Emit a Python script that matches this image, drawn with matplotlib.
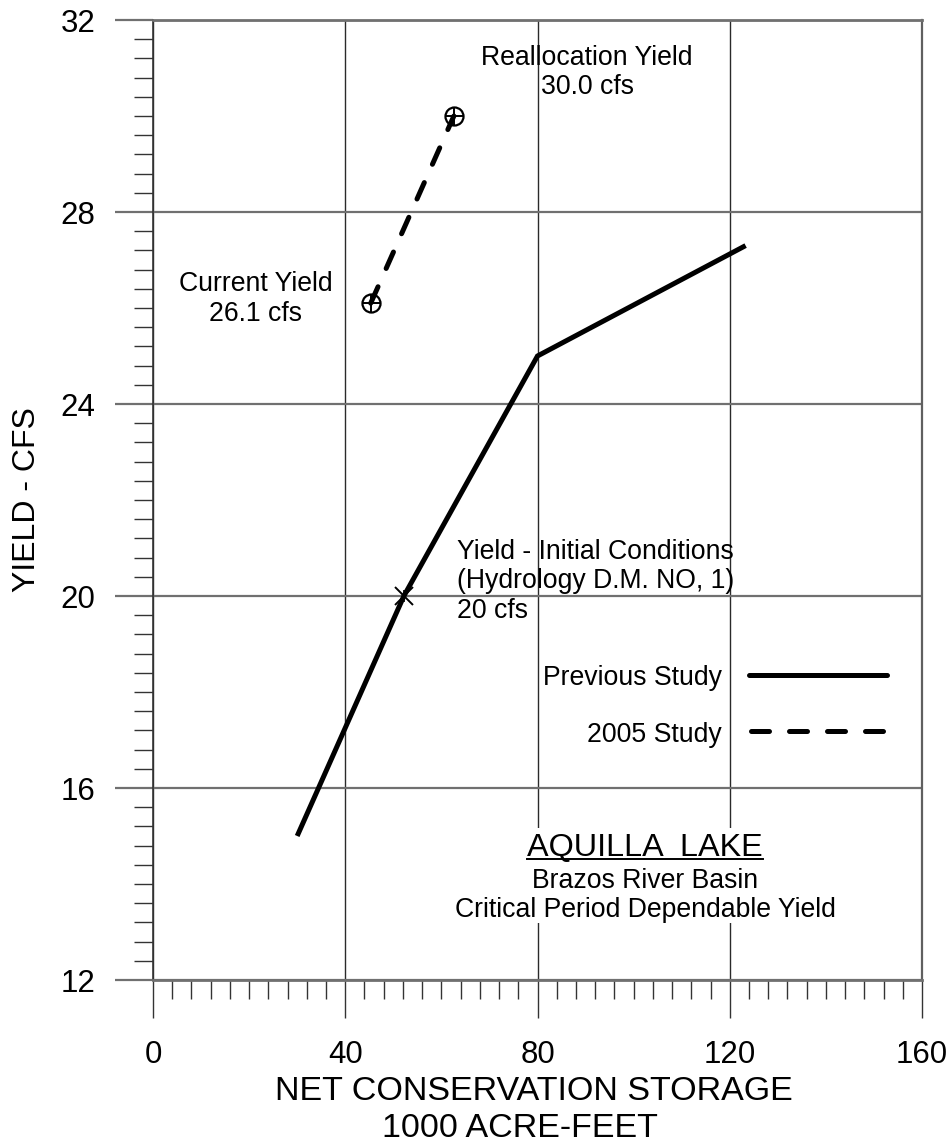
import matplotlib
matplotlib.use("Agg")
import matplotlib.pyplot as plt
from matplotlib.ticker import MultipleLocator, FixedLocator
from matplotlib.patches import Rectangle

plt.rcParams["font.family"] = ["Liberation Sans", "DejaVu Sans"]

# Previous study: yield vs. net conservation storage
prev_storage = [30.0, 52.2, 80.0, 123.3]
prev_yield = [15.0, 20.0, 25.0, 27.3]

# 2005 study: current and reallocation yields
new_storage = [45.3, 62.6]
new_yield = [26.1, 30.0]

# Initial-conditions yield point
initial_storage = [52.2]
initial_yield = [20.0]

x_ticks = [0, 40, 80, 120, 160]
y_ticks = [12, 16, 20, 24, 28, 32]

W, H = 950, 1143
fig = plt.figure(figsize=(W / 100, H / 100), dpi=100)
ax = fig.add_axes([153 / W, 163 / H, 769 / W, 960 / H])
ax.set_xlim(0, 160)
ax.set_ylim(12, 32)

ax.xaxis.set_major_locator(FixedLocator(x_ticks))
ax.yaxis.set_major_locator(FixedLocator(y_ticks))
ax.xaxis.set_minor_locator(MultipleLocator(4))
ax.yaxis.set_minor_locator(MultipleLocator(0.4))

ax.xaxis.grid(True, which="major", color="#2a2a2a", lw=1.0)
ax.yaxis.grid(True, which="major", color="#707070", lw=1.6)

for side, col, lw in [("left", "#333333", 1.2), ("bottom", "#707070", 2.0),
                      ("top", "#707070", 2.0), ("right", "#606060", 1.6)]:
    ax.spines[side].set_color(col)
    ax.spines[side].set_linewidth(lw)

ax.tick_params(which="major", direction="out", length=27.4, width=1.0,
               color="#333333", labelsize=22.5, labelcolor="black")
ax.tick_params(which="minor", direction="out", length=13.7, width=1.0,
               color="#333333")
ax.tick_params(axis="y", which="major", width=1.6, color="#707070", pad=14)
ax.tick_params(axis="x", which="major", pad=16)

lw_main = 3.6
dash = (0, (3.6, 4.0))

# Curves
ax.plot(prev_storage, prev_yield, color="black", lw=lw_main,
        solid_capstyle="butt", solid_joinstyle="miter", zorder=4)
ax.plot(new_storage, new_yield, color="black", lw=lw_main, linestyle=dash,
        dash_capstyle="round", zorder=4)
ax.plot(new_storage, new_yield, linestyle="none", marker="o", ms=13,
        mfc="none", mec="black", mew=1.6, zorder=5)
ax.plot(new_storage, new_yield, linestyle="none", marker="+", ms=13,
        mec="black", mew=1.4, zorder=5)
ax.plot(initial_storage, initial_yield, linestyle="none", marker="x", ms=13,
        mec="black", mew=1.4, zorder=5)
ax.plot(initial_storage, initial_yield, linestyle="none", marker="|", ms=9,
        mec="black", mew=1.2, zorder=5)

fs = 19.2
# Annotations
ax.text(90.3, 31.06, "Reallocation Yield", ha="center", va="baseline", fontsize=fs)
ax.text(90.3, 30.46, "30.0 cfs", ha="center", va="baseline", fontsize=fs)
ax.text(21.3, 26.36, "Current Yield", ha="center", va="baseline", fontsize=fs)
ax.text(21.3, 25.73, "26.1 cfs", ha="center", va="baseline", fontsize=fs)
ax.text(63.2, 20.765, "Yield - Initial Conditions", ha="left", va="baseline", fontsize=fs)
ax.text(63.2, 20.16, "(Hydrology D.M. NO, 1)", ha="left", va="baseline", fontsize=fs)
ax.text(63.2, 19.55, "20 cfs", ha="left", va="baseline", fontsize=fs)

# Legend
ax.text(118.3, 18.146, "Previous Study", ha="right", va="baseline", fontsize=fs)
ax.text(118.3, 16.965, "2005 Study", ha="right", va="baseline", fontsize=fs)
ax.plot([124.0, 152.8], [18.354, 18.354], color="black", lw=lw_main,
        solid_capstyle="round")
ax.plot([124.5, 152.8], [17.19, 17.19], color="black", lw=lw_main,
        linestyle=dash, dash_capstyle="round")

# Title block with white background
ax.add_patch(Rectangle((73.2, 13.19), 59.3, 1.98, facecolor="white",
                       edgecolor="none", zorder=2))
title = ax.text(102.4, 14.583, "AQUILLA  LAKE", ha="center", va="baseline",
                fontsize=23.3, zorder=3)
ax.text(102.4, 13.917, "Brazos River Basin", ha="center", va="baseline",
        fontsize=fs, zorder=3)
ax.text(102.4, 13.3125, "Critical Period Dependable Yield", ha="center",
        va="baseline", fontsize=fs, zorder=3)

fig.canvas.draw()
bb = title.get_window_extent(fig.canvas.get_renderer())
inv = ax.transData.inverted()
(x0, _), (x1, _) = inv.transform([(bb.x0, 0), (bb.x1, 0)])
_, y_base = ax.transData.transform((0, 14.583))
_, y_ul = inv.transform((0, y_base - 3))
ax.plot([x0, x1], [y_ul, y_ul], color="black", lw=1.4, zorder=3)

# Axis titles
fig.text(534 / W, 1 - 1100 / H, "NET CONSERVATION STORAGE", ha="center",
         va="baseline", fontsize=24.5)
fig.text(520 / W, 1 - 1137 / H, "1000 ACRE-FEET", ha="center",
         va="baseline", fontsize=24.5)
fig.text(27 / W, 1 - 500 / H, "YIELD - CFS", rotation=90, ha="center",
         va="center", fontsize=23)

fig.savefig("out.png", dpi=100)
